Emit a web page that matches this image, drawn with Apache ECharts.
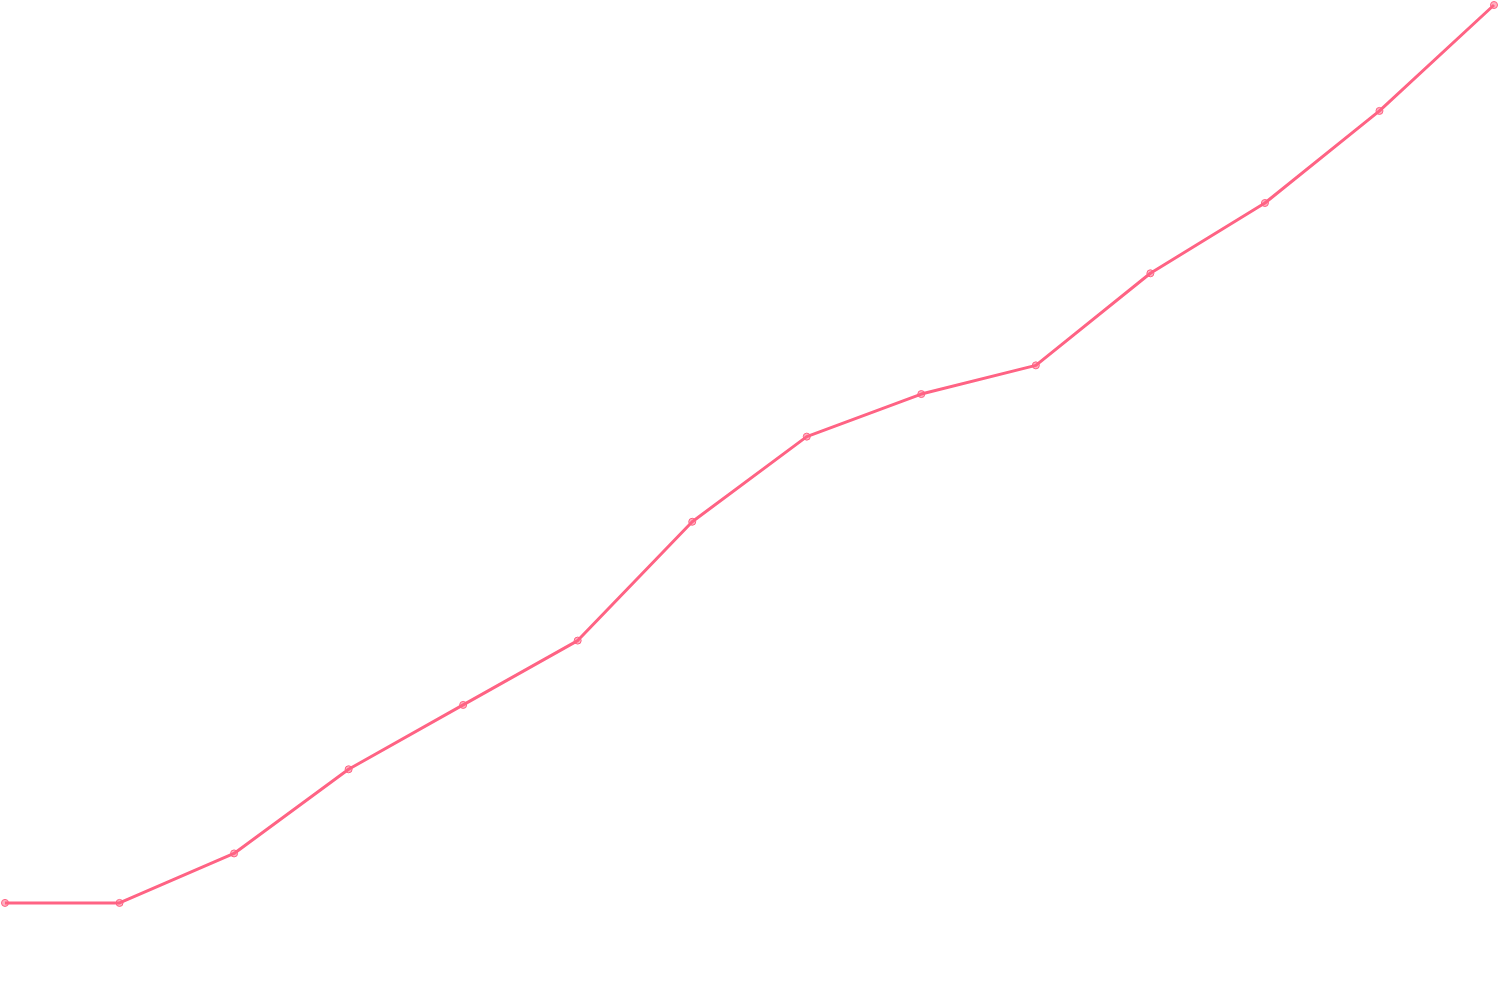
<!DOCTYPE html>
<html>
<head>
<meta charset="utf-8">
<script src="https://cdn.jsdelivr.net/npm/echarts@6/dist/echarts.min.js"></script>
<style>html,body{margin:0;padding:0;background:#fff;}#c{width:1500px;height:1000px;}</style>
</head>
<body>
<div id="c"></div>
<script>
const categories = ['1','2','3','4','5','6','7','8','9','10','11','12','13','14'];
const values = [9.3, 9.3, 14.3, 22.8, 29.3, 35.8, 47.8, 56.4, 60.7, 63.6, 72.9, 80.0, 89.3, 100];

const chart = echarts.init(document.getElementById('c'));
chart.setOption({
  animation: false,
  backgroundColor: '#ffffff',
  grid: { left: 5, right: 6, top: 5, bottom: 5, containLabel: false },
  xAxis: {
    type: 'category', data: categories, boundaryGap: false,
    show: false
  },
  yAxis: {
    type: 'value', min: 0, max: 100, show: false
  },
  series: [{
    type: 'line',
    data: values,
    symbol: 'circle',
    symbolSize: 7,
    showAllSymbol: true,
    lineStyle: { color: 'rgb(255,99,132)', width: 3 },
    itemStyle: { color: 'rgba(255,99,132,0.5)', borderColor: 'rgb(255,99,132)', borderWidth: 1 }
  }]
});
</script>
</body>
</html>
